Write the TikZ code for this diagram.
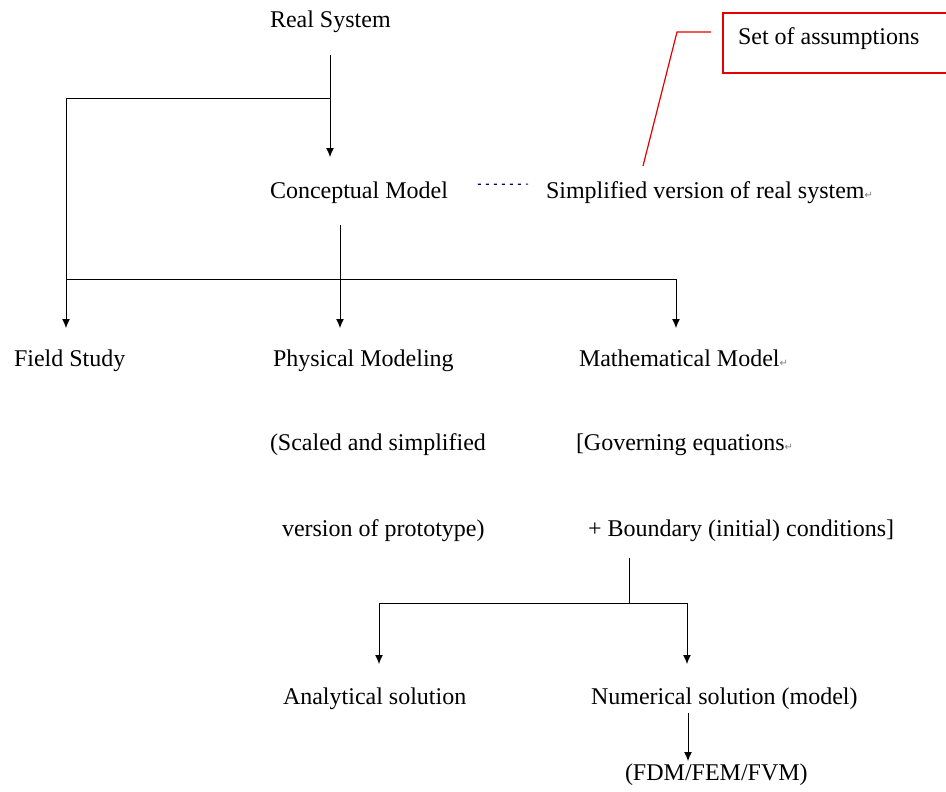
\documentclass[tikz,border=0pt]{standalone}
\usepackage{fontspec}
\setmainfont{Liberation Serif}
\newfontfamily\markfont{DejaVu Sans}
\usetikzlibrary{arrows.meta,positioning,calc}

\newcommand{\pmark}{{\markfont\fontsize{10}{10}\selectfont\color{gray}\char"21B5}}

\begin{document}
\begin{tikzpicture}[x=1pt,y=-1pt,line width=1pt,font=\fontsize{24}{28}\selectfont]
\tikzstyle{lab}=[anchor=base west,inner sep=0pt,outer sep=0pt]
  \tikzstyle{arr}=[-{Latex[length=9pt,width=8pt]}]
  \tikzstyle{note}=[draw=red!90!black,line width=1.2pt]
%
\useasboundingbox (0,0) rectangle (946,792);
%
\node[lab] (real) at (270,28) {Real System};
  \node[lab] (concept) at (270,198) {Conceptual Model};
  \node[lab] (simple) at (546,198) {Simplified version of real system\pmark};
  \node[lab] (assume) at (738,45) {Set of assumptions};
  \node[lab] (field) at (14,366) {Field Study};
  \node[lab] (phys) at (273,366) {Physical Modeling};
  \node[lab] (math) at (579,366) {Mathematical Model\pmark};
  \node[lab] (phys1) at (270,450) {(Scaled and simplified};
  \node[lab] (math1) at (576,450) {[Governing equations\pmark};
  \node[lab] (phys2) at (282,536) {version of prototype)};
  \node[lab] (math2) at (588,536) {+ Boundary (initial) conditions]};
  \node[lab] (anal) at (283,704) {Analytical solution};
  \node[lab] (num) at (591,704) {Numerical solution (model)};
  \node[lab] (fdm) at (625,780) {(FDM/FEM/FVM)};
%
\coordinate (a0) at (330,55);
  \coordinate (a1) at (330,99);
  \coordinate (a2) at (330,157);
  \coordinate (a3) at (66,99);
  \coordinate (b0) at (340,225);
  \coordinate (b1) at (340,279);
  \coordinate (b2) at (340,328);
  \coordinate (b3) at (66,279);
  \coordinate (b4) at (66,328);
  \coordinate (b5) at (676,279);
  \coordinate (b6) at (676,328);
  \coordinate (c0) at (629,558);
  \coordinate (c1) at (629,603);
  \coordinate (c2) at (379,603);
  \coordinate (c3) at (379,664);
  \coordinate (c4) at (687,603);
  \coordinate (c5) at (687,664);
  \coordinate (d0) at (688,713);
  \coordinate (d1) at (688,761);
  \coordinate (e0) at (643,166);
  \coordinate (e1) at (677,32);
  \coordinate (e2) at (711,32);
%
\draw[arr] (a0) -- (a2);
  \draw (a1) -- (a3);
  \draw[arr] (a3) -- (b4);
  \draw[arr] (b0) -- (b2);
  \draw[arr] (b3) -- (b5) -- (b6);
  \draw (c0) -- (c1);
  \draw[arr] (c1) -- (c2) -- (c3);
  \draw[arr] (c1) -- (c4) -- (c5);
  \draw[arr] (d0) -- (d1);
  \draw[dash pattern=on 3pt off 5pt,line width=1.2pt,black!60!blue] ($(concept.east)+(30,-8)$) -- ($(simple.west)+(-18,-8)$);
  \draw[note] (e0) -- (e1) -- (e2);
  \draw[note] (946,13) -- (723,13) -- (723,73) -- (946,73);
\end{tikzpicture}
\end{document}
